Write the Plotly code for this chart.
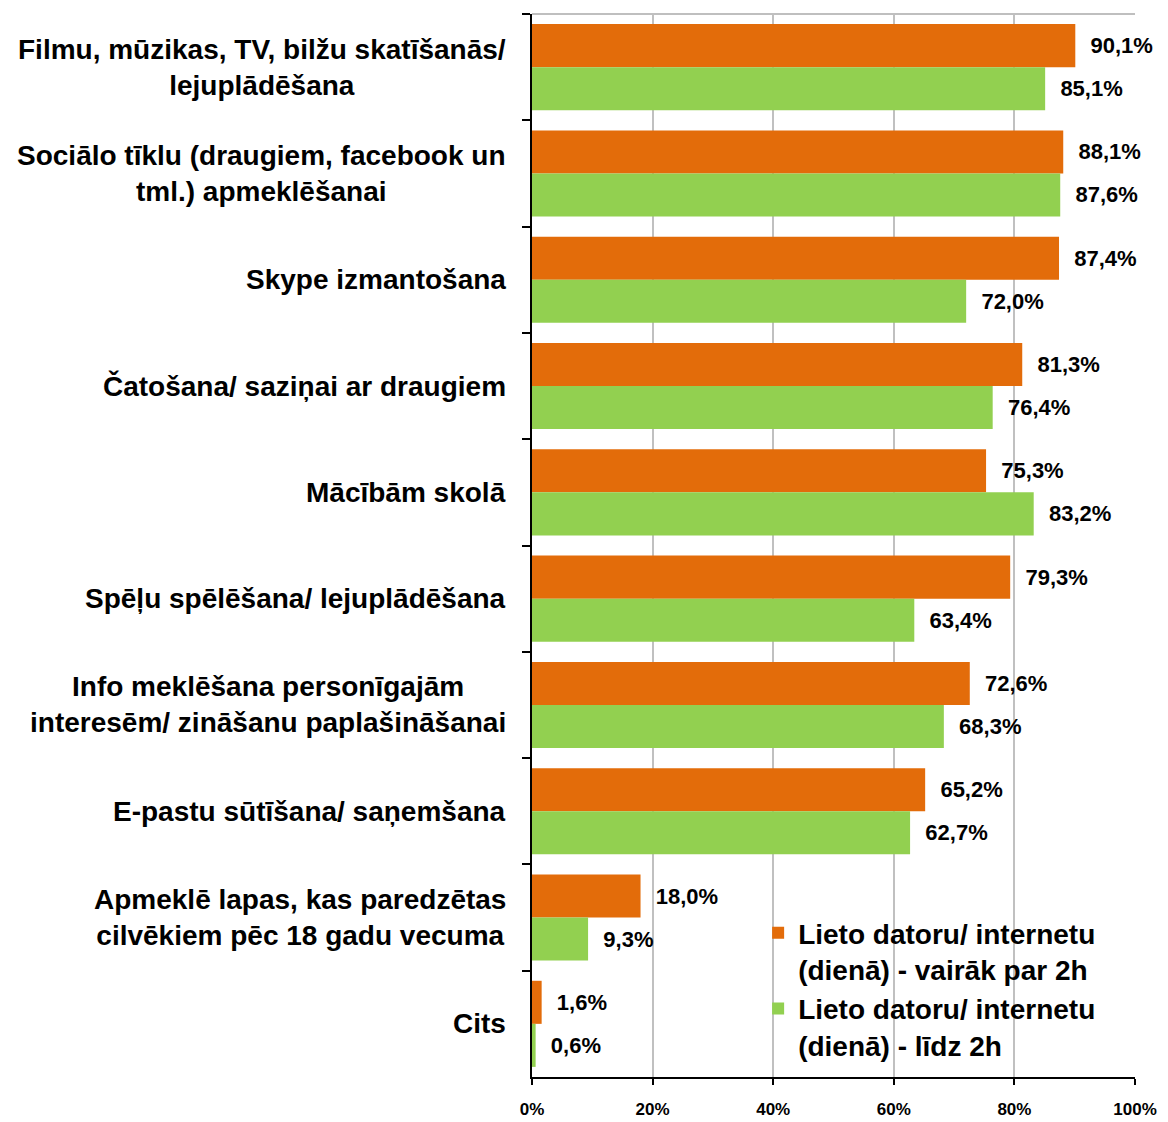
import plotly.graph_objects as go

categories = [
    'Filmu, mūzikas, TV, bilžu skatīšanās/<br>lejuplādēšana',
    'Sociālo tīklu (draugiem, facebook un<br>tml.) apmeklēšanai',
    'Skype izmantošana',
    'Čatošana/ saziņai ar draugiem',
    'Mācībām skolā',
    'Spēļu spēlēšana/ lejuplādēšana',
    'Info meklēšana personīgajām<br>interesēm/ zināšanu paplašināšanai',
    'E-pastu sūtīšana/ saņemšana',
    'Apmeklē lapas, kas paredzētas<br>cilvēkiem pēc 18 gadu vecuma',
    'Cits',
]
more_2h = [90.1, 88.1, 87.4, 81.3, 75.3, 79.3, 72.6, 65.2, 18.0, 1.6]
upto_2h = [85.1, 87.6, 72.0, 76.4, 83.2, 63.4, 68.3, 62.7, 9.3, 0.6]
series_names = [
    'Lieto datoru/ internetu<br>(dienā) - vairāk par 2h',
    'Lieto datoru/ internetu<br>(dienā) - līdz 2h',
]
x_ticks = [0, 20, 40, 60, 80, 100]
x_tick_labels = [f'{v}%' for v in x_ticks]

FONT = 'Liberation Sans, Arial, sans-serif'
ORANGE = '#E36C0A'
GREEN = '#92D050'

fig = go.Figure()
for name, vals, color in [(series_names[0], more_2h, ORANGE),
                          (series_names[1], upto_2h, GREEN)]:
    fig.add_trace(go.Bar(
        y=categories,
        x=vals,
        name=name,
        orientation='h',
        marker=dict(color=color, line=dict(width=0)),
        texttemplate='\u00a0\u00a0%{x:.1f}%',
        textposition='outside',
        constraintext='none',
        cliponaxis=False,
        textfont=dict(family=FONT, size=22, color='black', weight='bold'),
    ))

# category labels, centred multi-line like the original
for cat in categories:
    fig.add_annotation(
        x=0, xref='paper', xanchor='right', xshift=-24,
        y=cat, yref='y',
        text=cat, align='center', showarrow=False,
        font=dict(family=FONT, size=28, color='black', weight='bold'),
    )

fig.update_layout(
    width=1168,
    height=1122,
    template='plotly_white',
    barmode='group',
    bargap=0.19,
    bargroupgap=0,
    separators=',.',
    margin=dict(l=524, r=41, t=6, b=53),
    plot_bgcolor='white',
    paper_bgcolor='white',
    font=dict(family=FONT, color='black'),
    legend=dict(
        x=0.375, y=0.159, xanchor='left', yanchor='top',
        bgcolor='rgba(0,0,0,0)',
        font=dict(family=FONT, size=28, color='black', weight='bold'),
        valign='top',
        itemwidth=30,
        tracegroupgap=0,
    ),
    shapes=[dict(type='line', xref='paper', yref='paper', x0=0, x1=1, y0=1, y1=1,
                 line=dict(color='#BFBFBF', width=2))],
)
fig.update_xaxes(
    range=[0, 100],
    tickvals=x_ticks,
    ticktext=x_tick_labels,
    showgrid=True, gridcolor='#C0C0C0', gridwidth=2,
    zeroline=False,
    showline=True, linecolor='black', linewidth=2,
    ticks='outside', ticklen=6, tickwidth=2, tickcolor='black',
    ticklabelstandoff=10,
    tickfont=dict(family=FONT, size=17, color='black', weight='bold'),
)
fig.update_yaxes(
    type='category',
    range=[9.5, -0.5],
    showticklabels=False,
    tickson='boundaries',
    ticks='outside', ticklen=8, tickwidth=2, tickcolor='black',
    showgrid=False,
    showline=True, linecolor='black', linewidth=2,
    zeroline=False,
)

fig.write_html('out.html')
